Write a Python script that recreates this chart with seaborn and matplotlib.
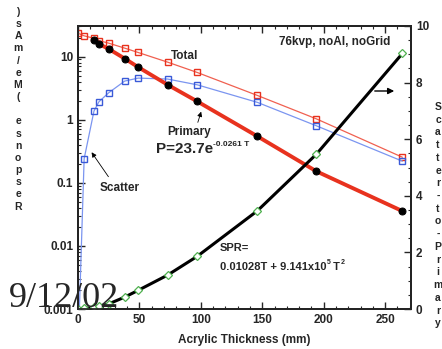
import numpy as np
import pandas as pd
import matplotlib
matplotlib.use('Agg')
import matplotlib.pyplot as plt
from matplotlib.patches import FancyArrowPatch
from matplotlib.ticker import MultipleLocator, LogLocator, NullFormatter
import seaborn as sns

# ==========================================
# DATA
# ==========================================
thickness = [0, 5, 13, 17, 25, 38, 49, 73, 97, 146, 194, 264]
total = [23.4, 21.3, 19.5, 17.9, 16.3, 13.6, 11.6, 8.15, 5.6, 2.42, 1.03, 0.254]
scatter = [0.0002, 0.24, 1.37, 1.92, 2.67, 4.09, 4.56, 4.4, 3.57, 1.88, 0.80, 0.22]
primary_thickness = [13, 17, 25, 38, 49, 73, 97, 146, 194, 264]
primary = [18.4, 15.9, 13.2, 9.3, 6.8, 3.57, 1.95, 0.545, 0.152, 0.0356]
spr = [0.0, 0.02, 0.06, 0.10, 0.18, 0.42, 0.66, 1.20, 1.86, 3.47, 5.47, 9.03]

left_ticks = [0.001, 0.01, 0.1, 1, 10]
left_labels = ['0.001', '0.01', '0.1', '1', '10']

RED = '#e8321e'
BLUE = '#3a5ad8'
LIGHT_BLUE = '#7b95f0'
GREEN = '#4fb04f'

sns.set_style('ticks')
plt.rcParams['font.family'] = ['Liberation Sans', 'DejaVu Sans']
plt.rcParams['font.weight'] = 'bold'

fig = plt.figure(figsize=(4.42, 3.49), dpi=100)
ax1 = fig.add_axes([78 / 442, 1 - 309 / 349, (411 - 78) / 442, (309 - 26) / 349])
ax1.set_yscale('log')

total_df = pd.DataFrame({'T': thickness, 'v': total})
scat_df = pd.DataFrame({'T': thickness, 'v': scatter})
prim_df = pd.DataFrame({'T': primary_thickness, 'v': primary})
spr_df = pd.DataFrame({'T': thickness, 'v': spr})

sns.lineplot(data=total_df, x='T', y='v', ax=ax1, color='#f06050', linewidth=0.9,
             marker='s', markersize=4.4, markerfacecolor='none',
             markeredgecolor=RED, markeredgewidth=1.0, zorder=3)
sns.lineplot(data=scat_df, x='T', y='v', ax=ax1, color=LIGHT_BLUE, linewidth=0.9,
             marker='s', markersize=4.4, markerfacecolor='none',
             markeredgecolor=BLUE, markeredgewidth=1.0, zorder=3)
sns.lineplot(data=prim_df, x='T', y='v', ax=ax1, color=RED, linewidth=2.8,
             marker='o', markersize=5, markerfacecolor='black',
             markeredgecolor='black', zorder=4)

ax1.set_xlim(0, 271)
ax1.set_ylim(0.001, 30.5)
ax1.set_yticks(left_ticks)
ax1.set_yticklabels(left_labels)
ax1.yaxis.set_minor_locator(LogLocator(base=10, subs=np.arange(2, 10)))
ax1.yaxis.set_minor_formatter(NullFormatter())
ax1.xaxis.set_major_locator(MultipleLocator(50))
ax1.xaxis.set_minor_locator(MultipleLocator(10))
ax1.set_xlabel('Acrylic Thickness (mm)', fontsize=8.5, fontweight='bold', labelpad=6)
ax1.set_ylabel('')
ax1.tick_params(which='major', direction='in', length=5, width=1, labelsize=8.5, top=True)
ax1.tick_params(which='minor', direction='in', length=2.5, width=0.8, top=True)
for s in ax1.spines.values():
    s.set_linewidth(1.3)
    s.set_color('black')

# SPR on secondary axis
ax2 = ax1.twinx()
sns.lineplot(data=spr_df, x='T', y='v', ax=ax2, color='black', linewidth=2.2,
             marker='D', markersize=3.8, markerfacecolor='white',
             markeredgecolor=GREEN, markeredgewidth=0.9)
ax2.set_ylim(0, 10)
ax2.set_ylabel('')
ax2.yaxis.set_major_locator(MultipleLocator(2))
ax2.yaxis.set_minor_locator(MultipleLocator(0.5))
ax2.tick_params(which='major', direction='in', length=5, width=1, labelsize=8.5)
ax2.tick_params(which='minor', direction='in', length=2.5, width=0.8)
for s in ax2.spines.values():
    s.set_linewidth(1.3)


# annotations placed in figure pixel positions
def fx(px):
    return px / 442


def fy(py):
    return 1 - py / 349


def chain(parts, x0, y0):
    """Write text pieces one after another; each part is (text, size, raise_px)."""
    fig.canvas.draw()
    r = fig.canvas.get_renderer()
    x = x0
    for txt, size, rise in parts:
        t = fig.text(fx(x), fy(y0 - rise), txt, fontsize=size, fontweight='bold',
                     ha='left', va='center')
        x += t.get_window_extent(renderer=r).width


fig.text(fx(185), fy(56), 'Total', fontsize=8.5, fontweight='bold', ha='center', va='center')
fig.text(fx(189), fy(132), 'Primary', fontsize=8.5, fontweight='bold', ha='center', va='center')
chain([('P=23.7e', 11, 0), ('-0.0261 T', 6, 5)], 156, 149)
fig.text(fx(120), fy(188), 'Scatter', fontsize=8.5, fontweight='bold', ha='center', va='center')
fig.text(fx(335), fy(42), '76kvp, noAl, noGrid', fontsize=8.5, fontweight='bold', ha='center', va='center')
fig.text(fx(220), fy(248), 'SPR=', fontsize=8, fontweight='bold', ha='left', va='center')
chain([('0.01028T + 9.141x10', 8, 0), ('5', 5, 4), (' T', 8, 0), ('2', 5, 4)], 220, 267)

arrow = dict(arrowstyle='-|>', color='black', lw=0.6, mutation_scale=7)
fig.add_artist(FancyArrowPatch((fx(197), fy(125)), (fx(202), fy(109)),
                               transform=fig.transFigure, **arrow))
fig.add_artist(FancyArrowPatch((fx(110), fy(179)), (fx(90), fy(150)),
                               transform=fig.transFigure, **arrow))
fig.add_artist(FancyArrowPatch((fx(372), fy(91)), (fx(397), fy(91)),
                               transform=fig.transFigure, arrowstyle='-|>',
                               color='black', lw=1.0, mutation_scale=9))

# stacked vertical axis labels
left_label = 'Response (Me/mAs)'
fig.text(fx(18), fy(7), '\n'.join(reversed(left_label)), fontsize=7.5, fontweight='bold',
         ha='center', va='top', linespacing=1.27)
right_label = 'Scatter-to-Primary'
fig.text(fx(438), fy(102), '\n'.join(right_label), fontsize=7.5, fontweight='bold',
         ha='center', va='top', linespacing=1.34)

# date stamp (sits over the 0.001 label, as in the original)
fig.text(fx(9), fy(307), '9/12/02', fontsize=26, family='Liberation Serif',
         fontweight='normal', ha='left', va='baseline')

fig.savefig('out.png', dpi=100)
